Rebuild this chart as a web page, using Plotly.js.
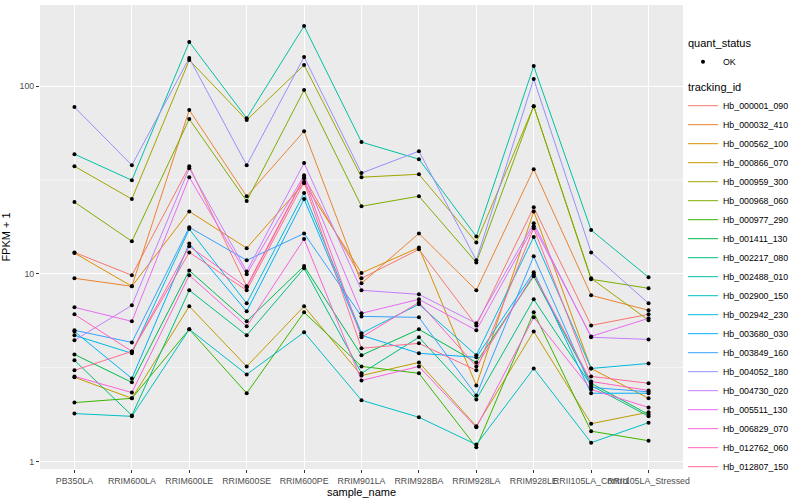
<!DOCTYPE html>
<html>
<head>
<meta charset="utf-8">
<script src="https://cdn.plot.ly/plotly-3.0.1.min.js"></script>
<style>html,body{margin:0;padding:0;background:#fff;}#chart{width:800px;height:500px;}</style>
</head>
<body>
<div id="chart"></div>
<script>
// ---- data ----
const samples = ["PB350LA","RRIM600LA","RRIM600LE","RRIM600SE","RRIM600PE","RRIM901LA","RRIM928BA","RRIM928LA","RRIM928LE","RRII105LA_Control","RRII105LA_Stressed"];

const trackingIds = ["Hb_000001_090","Hb_000032_410","Hb_000562_100","Hb_000866_070","Hb_000959_300","Hb_000968_060","Hb_000977_290","Hb_001411_130","Hb_002217_080","Hb_002488_010","Hb_002900_150","Hb_002942_230","Hb_003680_030","Hb_003849_160","Hb_004052_180","Hb_004730_020","Hb_005511_130","Hb_006829_070","Hb_012762_060","Hb_012807_150"];

const Hb_000001_090 = [13.0, 9.82, 37.4, 8.58, 32.7, 9.46, 13.5, 5.31, 22.6, 5.31, 6.08];
const Hb_000032_410 = [9.46, 8.58, 74.5, 25.9, 57.5, 8.90, 16.4, 8.17, 36.1, 7.68, 6.39];
const Hb_000562_100 = [12.9, 8.58, 21.5, 13.7, 30.4, 10.1, 13.8, 2.54, 21.5, 3.13, 2.17];
const Hb_000866_070 = [2.81, 2.17, 6.71, 3.21, 6.71, 2.87, 3.37, 1.54, 4.93, 1.59, 1.83];
const Hb_000959_300 = [37.4, 25.0, 137.6, 65.9, 129.4, 32.7, 33.9, 14.7, 78.2, 9.46, 5.65];
const Hb_000968_060 = [24.1, 14.9, 66.7, 24.4, 95.2, 22.9, 25.9, 11.5, 78.2, 9.35, 8.37];
const Hb_000977_290 = [2.06, 2.17, 5.06, 2.31, 6.23, 3.21, 2.95, 1.19, 6.23, 1.45, 1.29];
const Hb_001411_130 = [3.72, 2.64, 10.4, 5.58, 11.0, 3.68, 5.06, 3.37, 9.70, 2.61, 1.78];
const Hb_002217_080 = [3.46, 1.76, 8.17, 4.70, 10.7, 2.95, 4.59, 2.14, 7.31, 2.54, 1.74];
const Hb_002488_010 = [43.4, 31.5, 171.7, 67.5, 208.9, 50.3, 40.8, 15.8, 127.8, 17.1, 9.58];
const Hb_002900_150 = [1.80, 1.74, 5.06, 2.91, 4.88, 2.12, 1.72, 1.23, 3.13, 1.26, 1.61];
const Hb_002942_230 = [4.70, 3.77, 17.3, 6.96, 26.9, 4.82, 6.88, 3.68, 15.7, 3.13, 3.33];
const Hb_003680_030 = [4.93, 2.77, 14.5, 6.31, 25.0, 4.70, 3.77, 3.59, 10.2, 2.31, 2.31];
const Hb_003849_160 = [5.00, 4.31, 17.7, 11.8, 16.4, 5.93, 5.86, 2.25, 12.4, 2.48, 2.35];
const Hb_004052_180 = [77.3, 37.9, 141.1, 37.9, 142.8, 34.4, 45.0, 11.8, 109.0, 13.0, 6.96];
const Hb_004730_020 = [4.42, 6.79, 36.5, 10.3, 38.9, 8.17, 7.77, 5.45, 18.6, 4.59, 4.47];
const Hb_005511_130 = [6.63, 5.58, 32.7, 9.94, 33.5, 6.16, 7.31, 5.00, 17.9, 4.64, 5.79];
const Hb_006829_070 = [2.84, 2.33, 9.82, 5.25, 15.3, 2.70, 3.21, 1.52, 5.86, 2.42, 1.94];
const Hb_012762_060 = [6.08, 3.86, 14.0, 8.47, 32.3, 4.59, 7.05, 3.21, 9.94, 2.67, 2.39];
const Hb_012807_150 = [3.06, 3.86, 13.0, 8.17, 30.8, 4.01, 4.26, 3.06, 17.5, 2.84, 2.61];

const seriesValues = [Hb_000001_090, Hb_000032_410, Hb_000562_100, Hb_000866_070, Hb_000959_300, Hb_000968_060, Hb_000977_290, Hb_001411_130, Hb_002217_080, Hb_002488_010, Hb_002900_150, Hb_002942_230, Hb_003680_030, Hb_003849_160, Hb_004052_180, Hb_004730_020, Hb_005511_130, Hb_006829_070, Hb_012762_060, Hb_012807_150];

const quantStatus = "OK";
const yTickVals = [1, 10, 100];
const yTickText = ["1", "10", "100"];
const yMinorGrid = [Math.sqrt(10), Math.sqrt(1000)];

// ggplot2 default hue palette for 20 groups
const palette = ["#F8766D","#EA8331","#D89000","#C09B00","#A3A500","#7CAE00","#39B600","#00BB4E","#00BF7D","#00C1A3","#00BFC4","#00BAE0","#00B0F6","#35A2FF","#9590FF","#C77CFF","#E76BF3","#FA62DB","#FF62BC","#FF6C91"];

// ---- traces ----
const FONT = "Liberation Sans, Arial, Helvetica, sans-serif";
const traces = [];
trackingIds.forEach((id, i) => {
  traces.push({
    type: "scatter", mode: "lines",
    x: samples, y: seriesValues[i], name: id,
    line: {color: palette[i], width: 1},
    legendgroup: "tracking_id",
    legendgrouptitle: {text: "tracking_id", font: {family: FONT, size: 11, color: "#000"}},
    legendrank: 100 + i,
    hoverinfo: "x+y+name"
  });
});
const px = [], py = [];
seriesValues.forEach(vals => vals.forEach((v, j) => { px.push(samples[j]); py.push(v); }));
traces.push({
  type: "scatter", mode: "markers",
  x: px, y: py, name: quantStatus,
  marker: {color: "#000", size: 4, symbol: "circle"},
  legendgroup: "quant_status",
  legendgrouptitle: {text: "quant_status", font: {family: FONT, size: 11, color: "#000"}},
  legendrank: 1
});

const layout = {
  width: 800, height: 500,
  margin: {l: 40, r: 117, t: 5, b: 31},
  paper_bgcolor: "#FFFFFF",
  plot_bgcolor: "#EBEBEB",
  font: {family: FONT, size: 9, color: "#4D4D4D"},
  xaxis: {
    type: "category",
    categoryorder: "array", categoryarray: samples,
    range: [-0.6, 10.6],
    showgrid: true, gridcolor: "#FFFFFF", gridwidth: 1.1,
    zeroline: false, showline: false,
    ticks: "outside", ticklen: 3, tickcolor: "#333333", tickwidth: 1,
    tickangle: 0,
    tickfont: {family: FONT, size: 8.8, color: "#4D4D4D"},
    title: {text: "sample_name", font: {family: FONT, size: 11, color: "#000"}, standoff: 0},
    fixedrange: true
  },
  yaxis: {
    type: "log",
    range: [-0.04, 2.432],
    tickvals: yTickVals, ticktext: yTickText,
    showgrid: true, gridcolor: "#FFFFFF", gridwidth: 1.1,
    zeroline: false, showline: false,
    ticks: "outside", ticklen: 3, tickcolor: "#333333", tickwidth: 1,
    tickfont: {family: FONT, size: 8.8, color: "#4D4D4D"},
    title: {text: "FPKM + 1", font: {family: FONT, size: 11, color: "#000"}, standoff: 8},
    fixedrange: true
  },
  shapes: yMinorGrid.map(v => ({
    type: "line", xref: "paper", x0: 0, x1: 1, yref: "y", y0: v, y1: v,
    line: {color: "#FFFFFF", width: 0.6}, layer: "below"
  })),
  legend: {
    x: 1.0, xanchor: "left", y: 0.95, yanchor: "top",
    traceorder: "grouped",
    tracegroupgap: 6,
    font: {family: FONT, size: 8.8, color: "#000"},
    bgcolor: "rgba(0,0,0,0)",
    itemwidth: 30
  },
  showlegend: true
};

Plotly.newPlot("chart", traces, layout, {displayModeBar: false, staticPlot: true});
</script>
</body>
</html>
